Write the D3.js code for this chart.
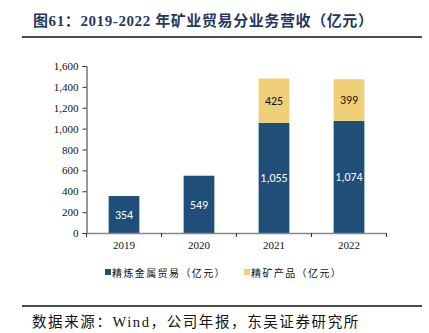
<!DOCTYPE html>
<html><head><meta charset="utf-8">
<script src="https://cdn.jsdelivr.net/npm/d3@7"></script>
<style>
html,body{margin:0;padding:0;background:#fff;}
svg{display:block;}
</style>
</head><body>
<svg id="c" width="429" height="333"></svg>
<script>
const categories = ["2019","2020","2021","2022"];
const refinedMetal = [354, 549, 1055, 1074];
const concentrate = [0, 0, 425, 399];
const seriesNames = ["精炼金属贸易（亿元）","精矿产品（亿元）"];
const yTicks = [0,200,400,600,800,1000,1200,1400,1600];
const titleText = "图61：2019-2022 年矿业贸易分业务营收（亿元）";
const sourceText = "数据来源：Wind，公司年报，东吴证券研究所";

const svg = d3.select("#c");
const colors = ["#1F4E79","#EFCF78"];
const serif = "'Liberation Serif','Times New Roman','Noto Sans CJK SC',serif";
const cjk = "'Liberation Serif','Noto Sans CJK SC',serif";

// title
svg.append("text").attr("x",33).attr("y",26)
  .attr("font-family",cjk).attr("font-weight","bold").attr("font-size",15)
  .attr("letter-spacing",0.6)
  .attr("fill","#1F3864").text(titleText);
svg.append("line").attr("x1",22).attr("x2",422).attr("y1",37).attr("y2",37)
  .attr("stroke","#111").attr("stroke-width",1.6);

const x = d3.scaleBand().domain(categories).range([86.5,386.5]).paddingInner(0.59).paddingOuter(0.295);
const y = d3.scaleLinear().domain([0,1600]).range([233,66]);

// y axis
const yAxis = d3.axisLeft(y).tickValues(yTicks).tickSize(4).tickFormat(d3.format(","));
const ga = svg.append("g").attr("transform","translate(86.5,0)").call(yAxis);
ga.select(".domain").attr("stroke","#333");
ga.selectAll(".tick line").attr("stroke","#333");
ga.selectAll(".tick text").attr("font-family",serif).attr("font-size",11).attr("fill","#111").attr("x",-8);

const data = categories.map((c,i)=>({c, v:[refinedMetal[i], concentrate[i]]}));
const stack = d3.stack().keys([0,1]).value((d,k)=>d.v[k]);
const layers = stack(data);

layers.forEach((layer,k)=>{
  svg.append("g").selectAll("rect").data(layer.filter(d=>d[1]-d[0]>0)).join("rect")
    .attr("x",d=>x(d.data.c)).attr("width",x.bandwidth())
    .attr("y",d=>y(d[1])).attr("height",d=>y(d[0])-y(d[1]))
    .attr("fill",colors[k]);
  svg.append("g").selectAll("text").data(layer.filter(d=>d[1]-d[0]>0)).join("text")
    .attr("x",d=>x(d.data.c)+x.bandwidth()/2)
    .attr("y",d=>(y(d[0])+y(d[1]))/2)
    .attr("dy","0.35em").attr("text-anchor","middle")
    .attr("font-family","Carlito,'Open Sans','DejaVu Sans',sans-serif").attr("font-size",12)
    .attr("fill",k===0?"#fff":"#111")
    .text(d=>d3.format(",")(d[1]-d[0]));
});

// x axis
const xAxis = d3.axisBottom(x).tickSize(0);
const gx = svg.append("g").attr("transform","translate(0,233)").call(xAxis);
gx.select(".domain").attr("stroke","#888").attr("stroke-width",1.5);
gx.selectAll(".tick text").attr("font-family",serif).attr("font-size",11).attr("fill","#111").attr("y",8);
// category boundary ticks
const bounds = categories.map(c=>x(c)-x.step()*x.paddingOuter()).concat([386.5]);
svg.append("g").selectAll("line").data(bounds).join("line")
  .attr("x1",d=>d).attr("x2",d=>d).attr("y1",233).attr("y2",237)
  .attr("stroke","#333");

// legend
const legX = [105, 244];
seriesNames.forEach((n,i)=>{
  svg.append("rect").attr("x",legX[i]).attr("y",269).attr("width",6).attr("height",6).attr("fill",colors[i]);
  svg.append("text").attr("x",legX[i]+7).attr("y",276.5)
    .attr("font-family","'Noto Sans CJK SC',sans-serif").attr("font-size",10).attr("fill","#111")
    .attr("letter-spacing",1.4)
    .text(n);
});

// source
svg.append("line").attr("x1",22).attr("x2",422).attr("y1",306).attr("y2",306)
  .attr("stroke","#111").attr("stroke-width",1.6);
svg.append("text").attr("x",32).attr("y",327)
  .attr("font-family",cjk).attr("font-size",14.5).attr("fill","#111")
  .attr("letter-spacing",1.6).text(sourceText);
</script>
</body></html>
